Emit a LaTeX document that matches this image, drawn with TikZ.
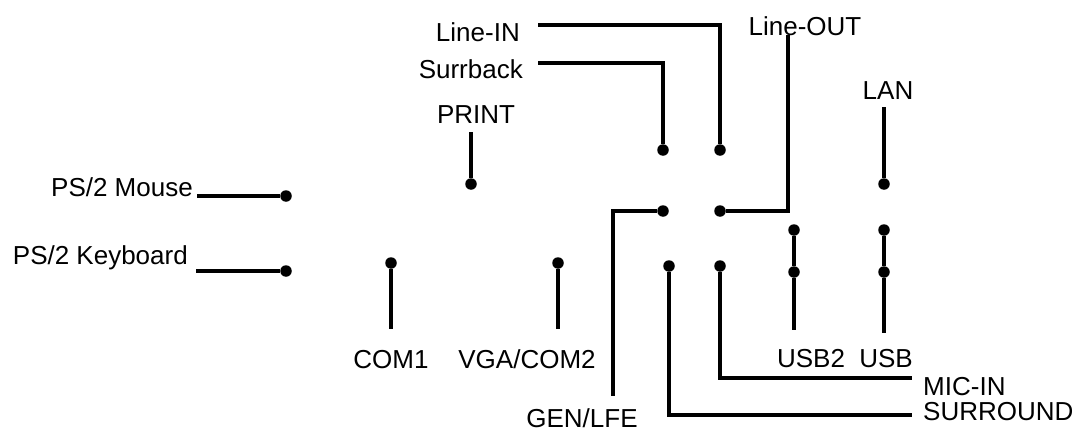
\documentclass[tikz,border=0pt]{standalone}
\usepackage{fontspec}
\setmainfont{Liberation Sans}
\tikzset{
  jack/.style={circle, fill=black, inner sep=0pt, minimum size=11.5pt},
  port/.style={font=\fontsize{26}{30}\selectfont, inner sep=0pt},
  wire/.style={line width=3.8pt}
}
\begin{document}
\begin{tikzpicture}[x=1pt, y=-1pt]
    \useasboundingbox (0,0) rectangle (1077,431);

    % jacks
    \node[jack] (mouse) at (286,196) {};
    \node[jack] (kbd) at (286,271) {};
    \node[jack] (print) at (471,184) {};
    \node[jack] (com1) at (391,263) {};
    \node[jack] (vga) at (558,263) {};
    \node[jack] (surrback) at (663,150) {};
    \node[jack] (linein) at (720,150) {};
    \node[jack] (genlfe) at (663,211) {};
    \node[jack] (lineout) at (720,211) {};
    \node[jack] (surround) at (669,266) {};
    \node[jack] (micin) at (720,266) {};
    \node[jack] (usbtwoA) at (794,230) {};
    \node[jack] (usbtwoB) at (794,272) {};
    \node[jack] (usbA) at (884,230) {};
    \node[jack] (usbB) at (884,272) {};
    \node[jack] (lan) at (884,184) {};

    % free ends
    \coordinate (mouseE) at (197,196);
    \coordinate (kbdE) at (196,271);
    \coordinate (printE) at (471,132);
    \coordinate (com1E) at (391,329);
    \coordinate (vgaE) at (558,329);
    \coordinate (lineinE) at (538,25);
    \coordinate (surrbackE) at (538,63);
    \coordinate (lineoutE) at (788,35);
    \coordinate (genlfeE) at (613,396);
    \coordinate (surroundE) at (912,415);
    \coordinate (micinE) at (912,378);
    \coordinate (usbtwoE) at (794,330);
    \coordinate (usbE) at (884,333);
    \coordinate (lanE) at (884,107);

    \draw[wire] (mouseE) -- (mouse);
    \draw[wire] (kbdE) -- (kbd);
    \draw[wire] (printE) -- (print);
    \draw[wire] (com1) -- (com1E);
    \draw[wire] (vga) -- (vgaE);
    \draw[wire] (lineinE) -| (linein);
    \draw[wire] (surrbackE) -| (surrback);
    \draw[wire] (lineout) -| (lineoutE);
    \draw[wire] (genlfe) -| (genlfeE);
    \draw[wire] (surround) |- (surroundE);
    \draw[wire] (micin) |- (micinE);
    \draw[wire] (usbtwoA) -- (usbtwoB) -- (usbtwoE);
    \draw[wire] (usbA) -- (usbB) -- (usbE);
    \draw[wire] (lanE) -- (lan);

    % labels
    \node[port, anchor=base east] (mouseL) at (193,196) {PS/2 Mouse};
    \node[port, anchor=base east] (kbdL) at (188,264) {PS/2 Keyboard};
    \node[port, anchor=base] (printL) at (476,123) {PRINT};
    \node[port, anchor=base east] (lineinL) at (520,41) {Line-IN};
    \node[port, anchor=base east] (surrbackL) at (523,78) {Surrback};
    \node[port, anchor=base] (lineoutL) at (805,35) {Line-OUT};
    \node[port, anchor=base] (lanL) at (888,99) {LAN};
    \node[port, anchor=base] (com1L) at (391,368) {COM1};
    \node[port, anchor=base] (vgaL) at (527,368) {VGA/COM2};
    \node[port, anchor=base] (usbtwoL) at (811,367) {USB2};
    \node[port, anchor=base] (usbL) at (886,367) {USB};
    \node[port, anchor=base west] (micinL) at (923,395) {MIC-IN};
    \node[port, anchor=base west] (surroundL) at (923,420) {SURROUND};
    \node[port, anchor=base] (genlfeL) at (582,427) {GEN/LFE};
\end{tikzpicture}
\end{document}
